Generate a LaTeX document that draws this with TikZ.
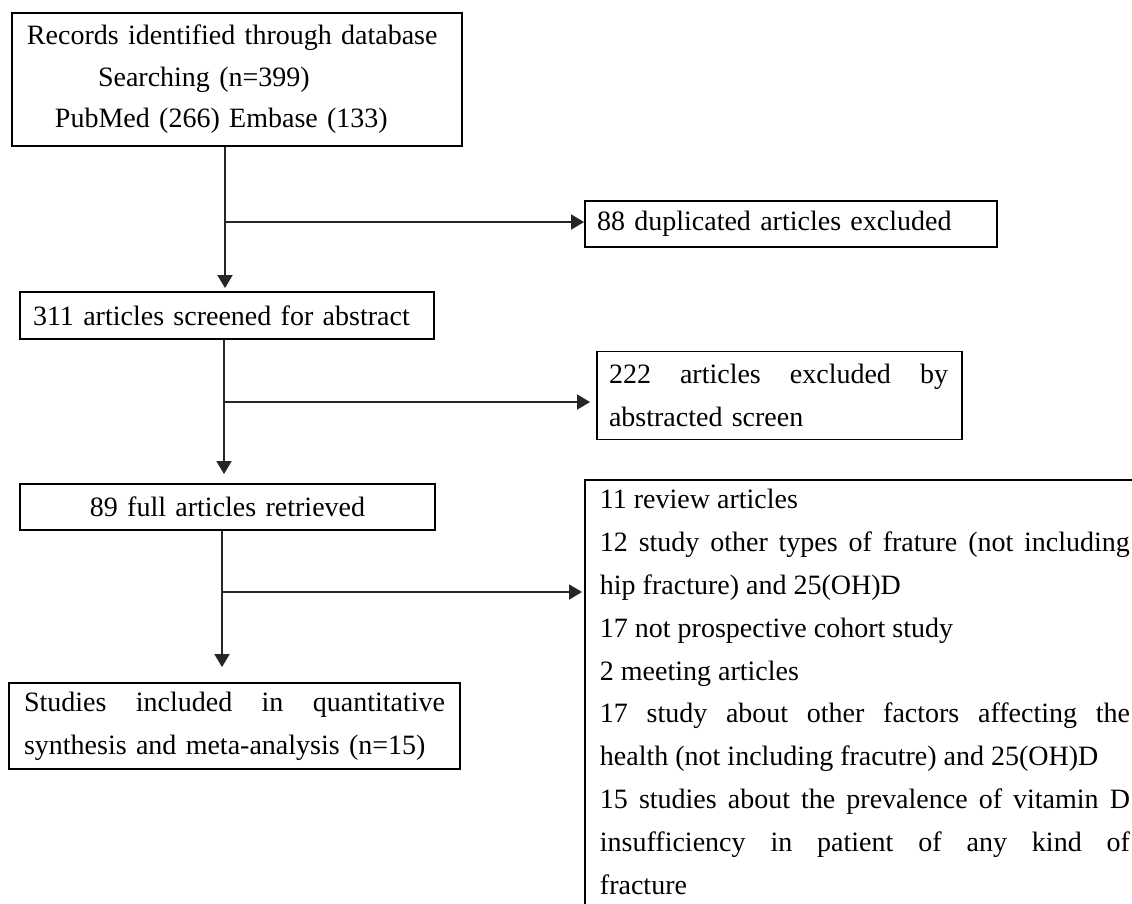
\documentclass[tikz,border=0pt]{standalone}
\usepackage{fontspec}
\setmainfont{Liberation Serif}
\usetikzlibrary{arrows.meta}
\newcommand{\jline}[2]{\hbox to #1{#2}}
\begin{document}
\begin{tikzpicture}[x=1pt,y=-1pt,
  box/.style={draw=black, line width=1.9pt, inner sep=0pt, fill=white,
    font=\fontsize{28}{42.7}\selectfont, align=left},
  arr/.style={draw=black!85, line width=1.9pt, -{Triangle[length=13pt,width=15pt]}}]
\useasboundingbox (0,0) rectangle (1132,903);
\clip (0,0) rectangle (1132,903);
\fill[white] (0,0) rectangle (1132,903);

\node[box, minimum width=450pt, minimum height=133pt, text width=420pt,
  font=\fontsize{28}{41.5}\selectfont] (b1) at (237,79.5)
  {Records identified through database\\
   \hspace*{71pt}Searching (n=399)\\
   \hspace*{28pt}PubMed (266) Embase (133)};

\node[box, minimum width=412pt, minimum height=46pt, text width=388pt] (b88) at (791,224)
  {88 duplicated articles excluded};

\node[box, minimum width=414pt, minimum height=47pt, text width=388pt] (b2) at (227,315.5)
  {311 articles screened for abstract};

\node[box, minimum width=365pt, minimum height=88pt, text width=341pt] (b222) at (779.5,395.5)
  {\jline{339pt}{222\hfill articles\hfill excluded\hfill by}\\abstracted screen};

\node[box, minimum width=415pt, minimum height=46pt, text width=400pt, align=center] (b3) at (227.5,507)
  {89 full articles retrieved};

\node[box, anchor=north west, inner xsep=15pt, inner ysep=9.5pt] (bbig) at (584,479)
  {\parbox[t][430pt][t]{530pt}{\fontsize{28}{42.8}\selectfont
   11 review articles\\
   \jline{530pt}{12\hfill study\hfill other\hfill types\hfill of\hfill frature\hfill (not\hfill including}\\
   hip fracture) and 25(OH)D\\
   17 not prospective cohort study\\
   2 meeting articles\\
   \jline{530pt}{17\hfill study\hfill about\hfill other\hfill factors\hfill affecting\hfill the}\\
   health (not including fracutre) and 25(OH)D\\
   \jline{530pt}{15\hfill studies\hfill about\hfill the\hfill prevalence\hfill of\hfill vitamin\hfill D}\\
   \jline{530pt}{insufficiency\hfill in\hfill patient\hfill of\hfill any\hfill kind\hfill of}\\
   fracture}};

\node[box, minimum width=451pt, minimum height=86pt, text width=421pt] (b4) at (234.5,726)
  {\jline{421pt}{Studies\hfill included\hfill in\hfill quantitative}\\synthesis and meta-analysis (n=15)};

\coordinate (s1) at (225,222);
\coordinate (s2) at (224,402);
\coordinate (s3) at (222,592);

\draw[arr, shorten >=3pt] (s1 |- b1.south) -- (s1 |- b2.north);
\draw[arr] (s1) -- (s1 -| b88.west);
\draw[arr, shorten >=9pt] (s2 |- b2.south) -- (s2 |- b3.north);
\draw[arr, shorten >=6pt] (s2) -- (s2 -| b222.west);
\draw[arr, shorten >=15pt] (s3 |- b3.south) -- (s3 |- b4.north);
\draw[arr, shorten >=2pt] (s3) -- (s3 -| bbig.west);
\end{tikzpicture}
\end{document}
